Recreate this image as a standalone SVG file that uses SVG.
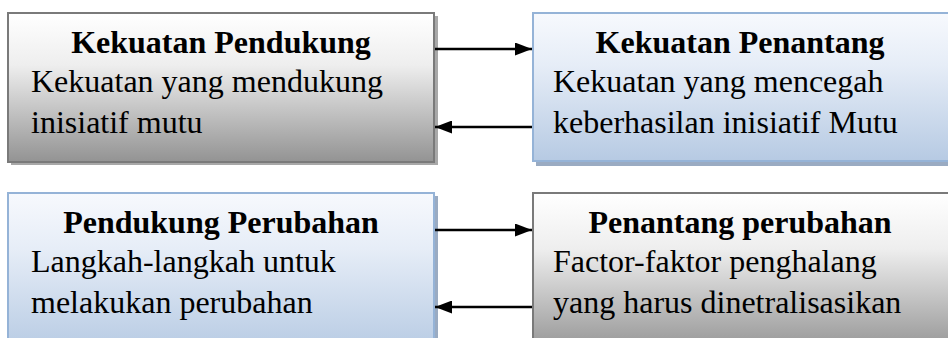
<svg xmlns="http://www.w3.org/2000/svg" width="948" height="338" viewBox="0 0 948 338">
<defs>
<linearGradient id="gGray" x1="0" y1="0" x2="0" y2="1">
<stop offset="0" stop-color="#ffffff"/>
<stop offset="0.35" stop-color="#eeeeee"/>
<stop offset="1" stop-color="#939393"/>
</linearGradient>
<linearGradient id="gBlue" x1="0" y1="0" x2="0" y2="1">
<stop offset="0" stop-color="#f7f9fd"/>
<stop offset="0.35" stop-color="#e6edf7"/>
<stop offset="1" stop-color="#b6cae3"/>
</linearGradient>
<marker id="ah" viewBox="0 0 17 13" refX="17" refY="6.5" markerWidth="17" markerHeight="13" markerUnits="userSpaceOnUse" orient="auto">
<path d="M0,0 L17,6.5 L0,13 Z" fill="#000"/>
</marker>
<style>
.gray{fill:url(#gGray);stroke:#7a7a7a;stroke-width:2}
.blue{fill:url(#gBlue);stroke:#95b3d7;stroke-width:2}
.shG{fill:#a8a8a8}
.shB{fill:#9aabc2}
.t{font-family:"Liberation Serif","Times New Roman",serif;font-size:32px;fill:#000}
.h{font-weight:bold;text-anchor:middle}
.c{stroke:#000;stroke-width:2.5;fill:none;marker-end:url(#ah)}
</style>
</defs>
<g id="n1">
<rect class="shG" x="11" y="16" width="427" height="149"/>
<rect class="gray" x="8" y="13" width="426" height="149"/>
<text class="t h" x="221" y="53">Kekuatan Pendukung</text>
<text class="t" x="31" y="92">Kekuatan yang mendukung</text>
<text class="t" x="31" y="133">inisiatif mutu</text>
</g>
<g id="n2">
<rect class="shB" x="536" y="16" width="420" height="150"/>
<rect class="blue" x="533" y="13" width="420" height="148"/>
<text class="t h" x="740" y="53">Kekuatan Penantang</text>
<text class="t" x="553" y="92">Kekuatan yang mencegah</text>
<text class="t" x="553" y="133">keberhasilan inisiatif Mutu</text>
</g>
<g id="n3">
<rect class="shB" x="11" y="196" width="427" height="160"/>
<rect class="blue" x="8" y="193" width="426" height="160"/>
<text class="t h" x="221" y="233">Pendukung Perubahan</text>
<text class="t" x="31" y="272">Langkah-langkah untuk</text>
<text class="t" x="31" y="313">melakukan perubahan</text>
</g>
<g id="n4">
<rect class="shG" x="536" y="196" width="420" height="160"/>
<rect class="gray" x="533" y="193" width="420" height="160"/>
<text class="t h" x="740" y="233">Penantang perubahan</text>
<text class="t" x="553" y="272">Factor-faktor penghalang</text>
<text class="t" x="553" y="313">yang harus dinetralisasikan</text>
</g>
<g id="connectors">
<line class="c" x1="435" y1="49" x2="532" y2="49"/>
<line class="c" x1="532" y1="127" x2="435" y2="127"/>
<line class="c" x1="435" y1="230" x2="532" y2="230"/>
<line class="c" x1="532" y1="307" x2="435" y2="307"/>
</g>
</svg>
